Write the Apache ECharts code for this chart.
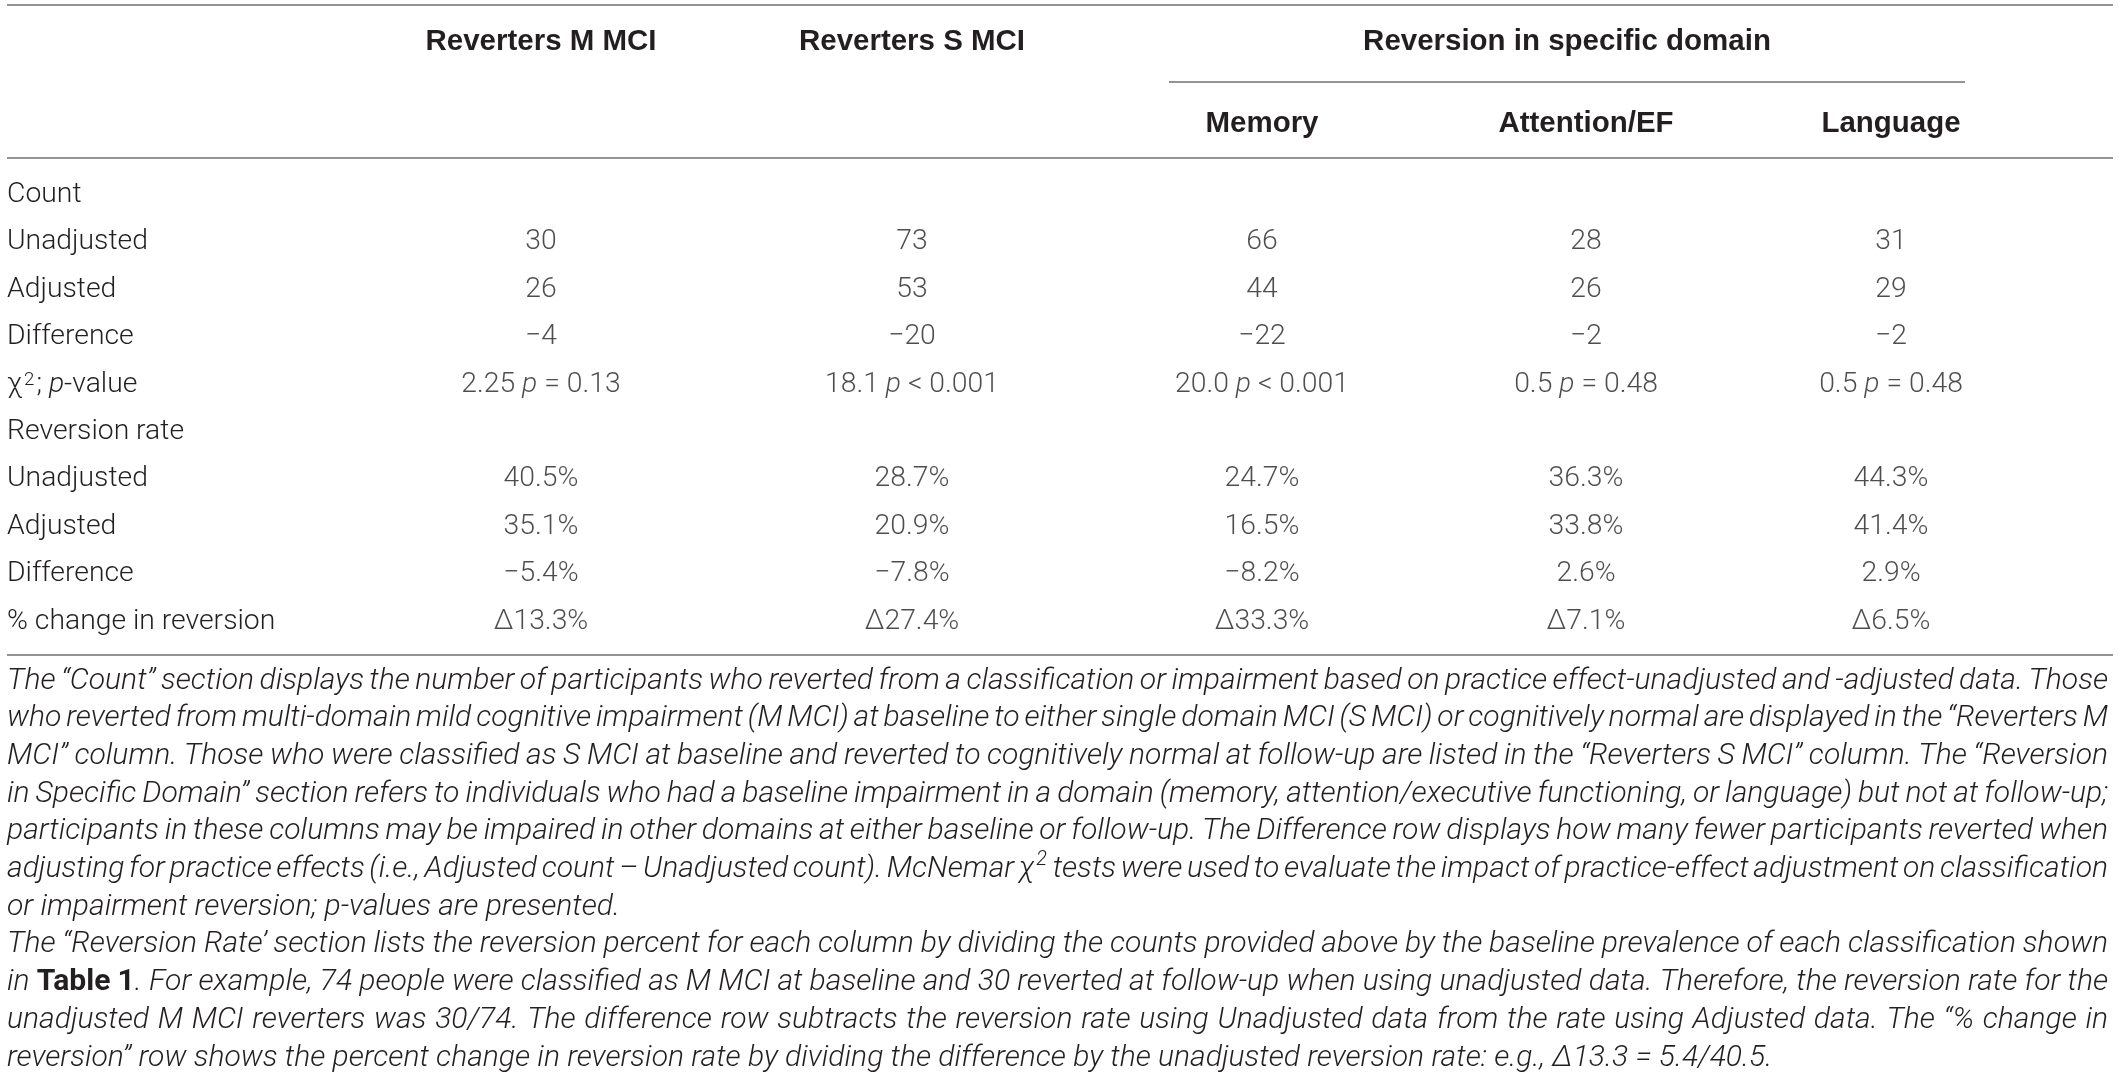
<!DOCTYPE html>
<html><head><meta charset="utf-8">
<script src="https://cdn.jsdelivr.net/npm/echarts@6/dist/echarts.min.js"></script>
<style>html,body{margin:0;padding:0;background:#fff}#c{width:2119px;height:1078px}</style>
</head><body><div id="c"></div><script>
// ---------- data ----------
const columnHeaders = ["Reverters M MCI", "Reverters S MCI", "Memory", "Attention/EF", "Language"];
const groupHeader = "Reversion in specific domain";
const rowLabels = ["Count", "Unadjusted", "Adjusted", "Difference", "χ²; p-value", "Reversion rate", "Unadjusted", "Adjusted", "Difference", "% change in reversion"];
const countUnadjusted = [30, 73, 66, 28, 31];
const countAdjusted = [26, 53, 44, 26, 29];
const countDifference = [-4, -20, -22, -2, -2];
const chiSquare = ["2.25", "18.1", "20.0", "0.5", "0.5"];
const pValue = ["= 0.13", "< 0.001", "< 0.001", "= 0.48", "= 0.48"];
const rateUnadjusted = [40.5, 28.7, 24.7, 36.3, 44.3];
const rateAdjusted = [35.1, 20.9, 16.5, 33.8, 41.4];
const rateDifference = [-5.4, -7.8, -8.2, 2.6, 2.9];
const percentChange = [13.3, 27.4, 33.3, 7.1, 6.5];
const footnoteLines = [
  'The “Count” section displays the number of participants who reverted from a classification or impairment based on practice effect-unadjusted and -adjusted data. Those',
  'who reverted from multi-domain mild cognitive impairment (M MCI) at baseline to either single domain MCI (S MCI) or cognitively normal are displayed in the “Reverters M',
  'MCI” column. Those who were classified as S MCI at baseline and reverted to cognitively normal at follow-up are listed in the “Reverters S MCI” column. The “Reversion',
  'in Specific Domain” section refers to individuals who had a baseline impairment in a domain (memory, attention/executive functioning, or language) but not at follow-up;',
  'participants in these columns may be impaired in other domains at either baseline or follow-up. The Difference row displays how many fewer participants reverted when',
  'adjusting for practice effects (i.e., Adjusted count – Unadjusted count). McNemar χ^2 tests were used to evaluate the impact of practice-effect adjustment on classification',
  'or impairment reversion; p-values are presented.',
  'The “Reversion Rate’ section lists the reversion percent for each column by dividing the counts provided above by the baseline prevalence of each classification shown',
  'in **Table 1**. For example, 74 people were classified as M MCI at baseline and 30 reverted at follow-up when using unadjusted data. Therefore, the reversion rate for the',
  'unadjusted M MCI reverters was 30/74. The difference row subtracts the reversion rate using Unadjusted data from the rate using Adjusted data. The “% change in',
  'reversion” row shows the percent change in reversion rate by dividing the difference by the unadjusted reversion rate: e.g., Δ13.3 = 5.4/40.5.'
];
const paragraphEnds = [6, 10];

// ---------- layout ----------
const W = 2119, H = 1078;
const colCenters = [541, 912, 1262, 1586, 1891];
const TEXT = '#231f20', RULE = '#707070';
const BODY_FAMILY = 'Roboto, "Liberation Sans", Arial, sans-serif';
const HEAD_FAMILY = '"Liberation Sans", Arial, Helvetica, sans-serif';

const ctx = document.createElement('canvas').getContext('2d');
function measure(text, size, weight, style, family) {
  ctx.font = `${style || 'normal'} ${weight || 'normal'} ${size}px ${family}`;
  return ctx.measureText(text).width;
}
function fit(text, target, weight, style, family, lo, hi) {
  const s = 100 * target / measure(text, 100, weight, style, family);
  return Math.max(lo, Math.min(hi, s));
}
const bodySize = fit('Unadjusted', 141, 300, 'normal', BODY_FAMILY, 26, 31);
const headSize = fit('Reverters M MCI', 231, 'bold', 'normal', HEAD_FAMILY, 27, 31);
const footSize = fit('reversion” row shows the percent change in reversion rate by dividing the difference by the unadjusted reversion rate: e.g., Δ13.3 = 5.4/40.5.', 1766, 300, 'italic', BODY_FAMILY, 24, 31);

// ---------- cells ----------
const signed = (v, d, suf) => (v < 0 ? '−' : '') + Math.abs(v).toFixed(d) + suf;
const rowCells = [
  null,
  countUnadjusted.map(String),
  countAdjusted.map(String),
  countDifference.map(v => signed(v, 0, '')),
  chiSquare.map((c, i) => c + ' {i|p} ' + pValue[i]),
  null,
  rateUnadjusted.map(v => v.toFixed(1) + '%'),
  rateAdjusted.map(v => v.toFixed(1) + '%'),
  rateDifference.map(v => signed(v, 1, '%')),
  percentChange.map(v => 'Δ' + v.toFixed(1) + '%')
];
const cellData = [];
rowCells.forEach((vals, r) => {
  if (!vals) return;
  vals.forEach((txt, c) => cellData.push({ value: [colCenters[c], r], name: txt }));
});

const richBody = {
  i: { fontStyle: 'italic', fontWeight: 300, fontFamily: BODY_FAMILY, fontSize: bodySize, color: TEXT },
  sup: { fontWeight: 300, fontFamily: BODY_FAMILY, fontSize: bodySize * 0.66, color: TEXT, verticalAlign: 'top', padding: [0, 2, 0, 2] }
};

// ---------- graphic: headers, rules, footnote ----------
const graphics = [];
const line = (x1, x2, y) => graphics.push({ type: 'line', silent: true, shape: { x1, y1: y, x2, y2: y }, style: { stroke: RULE, lineWidth: 1.6 } });
line(7, 2113, 5);
line(1169, 1965, 82);
line(7, 2113, 158);
line(7, 2113, 655);
const headText = (t, x, y) => graphics.push({ type: 'text', silent: true, x, y, style: { text: t, fill: TEXT, fontFamily: HEAD_FAMILY, fontWeight: 'bold', fontSize: headSize, align: 'center', verticalAlign: 'middle' } });
headText(columnHeaders[0], colCenters[0], 42);
headText(columnHeaders[1], colCenters[1], 42);
headText(groupHeader, 1567, 42);
headText(columnHeaders[2], colCenters[2], 124);
headText(columnHeaders[3], colCenters[3], 124);
headText(columnHeaders[4], colCenters[4], 124);

function parseLine(s) {
  let bold = false;
  return s.split(' ').map(w => {
    const segs = []; let buf = ''; let i = 0;
    const flush = () => { if (buf) { segs.push({ t: buf, bold, sup: false }); buf = ''; } };
    while (i < w.length) {
      if (w.startsWith('**', i)) { flush(); bold = !bold; i += 2; continue; }
      if (w[i] === '^') { flush(); segs.push({ t: w[i + 1], bold, sup: true }); i += 2; continue; }
      buf += w[i]; i++;
    }
    flush();
    return segs;
  });
}
const segFont = s => ({
  size: s.sup ? footSize * 0.66 : footSize,
  weight: s.bold ? 'bold' : 300,
  style: s.bold ? 'normal' : 'italic'
});
const segWidth = s => { const f = segFont(s); return measure(s.t, f.size, f.weight, f.style, BODY_FAMILY) + (s.sup ? 3 : 0); };
const FL = 7, FR = 2108, F0 = 681, FSTEP = 37.7;
footnoteLines.forEach((ln, li) => {
  const words = parseLine(ln);
  const widths = words.map(ws => ws.reduce((a, s) => a + segWidth(s), 0));
  const total = widths.reduce((a, b) => a + b, 0);
  const justify = paragraphEnds.indexOf(li) < 0;
  const gap = justify ? (FR - FL - total) / (words.length - 1) : measure(' ', footSize, 300, 'italic', BODY_FAMILY);
  const y = F0 + li * FSTEP;
  let x = FL;
  words.forEach((ws, wi) => {
    let sx = x;
    ws.forEach(s => {
      const f = segFont(s);
      graphics.push({ type: 'text', silent: true, x: sx + (s.sup ? 2 : 0), y: s.sup ? y - footSize * 0.33 : y,
        style: { text: s.t, fill: TEXT, fontFamily: BODY_FAMILY, fontSize: f.size, fontWeight: f.weight, fontStyle: f.style, align: 'left', verticalAlign: 'middle' } });
      sx += segWidth(s);
    });
    x += widths[wi] + gap;
  });
});

// ---------- chart ----------
const chart = echarts.init(document.getElementById('c'), null, { renderer: 'canvas' });
const band = 47.4, firstRow = 195;
chart.setOption({
  backgroundColor: '#ffffff',
  animation: false,
  grid: { left: 0, right: 0, top: firstRow - band / 2, height: band * rowLabels.length, containLabel: false },
  xAxis: { type: 'value', min: 0, max: W, show: false },
  yAxis: {
    type: 'category', data: rowLabels, inverse: true,
    axisLine: { show: false }, axisTick: { show: false }, splitLine: { show: false },
    axisLabel: {
      inside: true, margin: 7, align: 'left', color: TEXT, fontFamily: BODY_FAMILY, fontWeight: 300, fontSize: bodySize,
      interval: 0,
      formatter: v => v === 'χ²; p-value' ? 'χ{sup|2}; {i|p}-value' : v,
      rich: richBody
    }
  },
  series: [{
    type: 'scatter', symbolSize: 1, silent: true,
    itemStyle: { color: 'rgba(0,0,0,0)' },
    data: cellData,
    label: {
      show: true, position: 'inside', formatter: p => p.name,
      color: TEXT, fontFamily: BODY_FAMILY, fontWeight: 300, fontSize: bodySize,
      rich: richBody
    }
  }],
  graphic: { elements: graphics }
});
</script></body></html>
